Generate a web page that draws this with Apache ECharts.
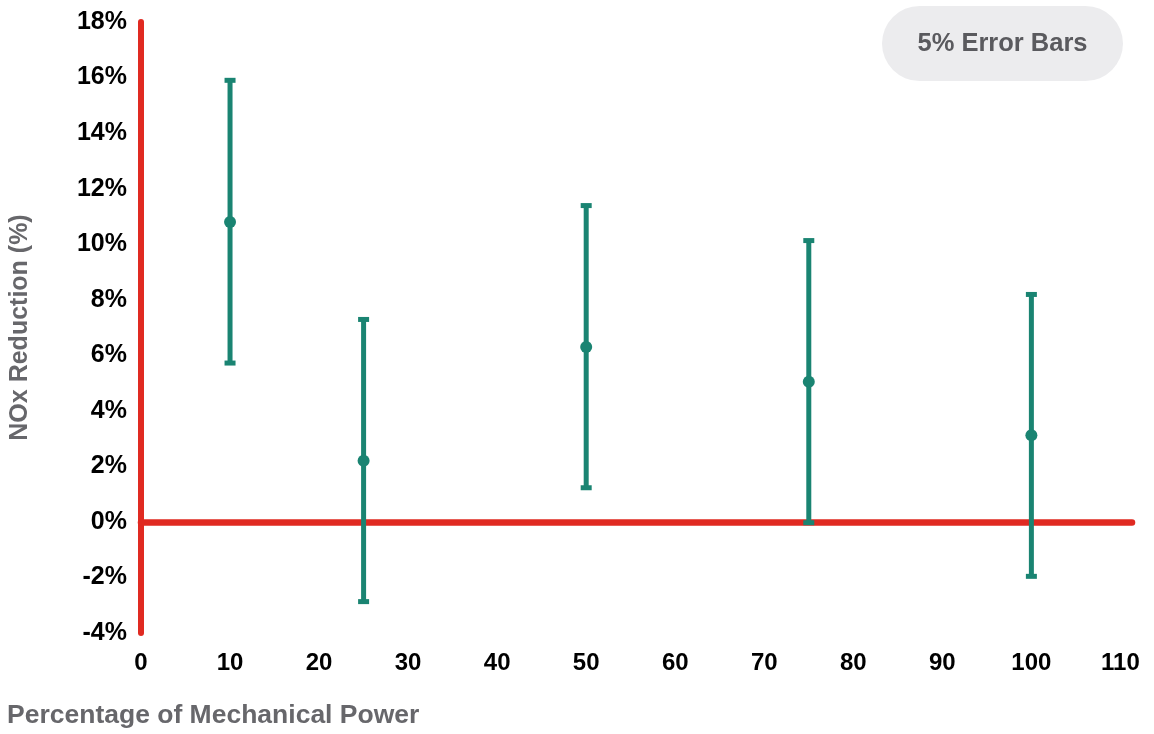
<!DOCTYPE html>
<html>
<head>
<meta charset="utf-8">
<script src="https://cdn.jsdelivr.net/npm/echarts@6/dist/echarts.min.js"></script>
<style>
  html, body { margin: 0; padding: 0; background: #fff; }
  #chart { width: 1154px; height: 734px; }
</style>
</head>
<body>
<div id="chart"></div>
<script>
// Share of mechanical power (%) at each test point
const power = [10, 25, 50, 75, 100];
// Mean NOx reduction (%)
const reduction = [10.8, 2.2, 6.3, 5.05, 3.12];
// Error bar bounds (%)
const lower = [5.72, -2.87, 1.23, -0.03, -1.96];
const upper = [15.9, 7.29, 11.39, 10.13, 8.19];

const xTicks = [0, 10, 20, 30, 40, 50, 60, 70, 80, 90, 100, 110];
const yTicks = [-4, -2, 0, 2, 4, 6, 8, 10, 12, 14, 16, 18];

const RED = '#e02a21';
const GREEN = '#1a8472';
const FONT = '"Liberation Sans", Arial, Helvetica, sans-serif';

const points = power.map((p, i) => [p, reduction[i], lower[i], upper[i]]);

const chart = echarts.init(document.getElementById('chart'), null, { renderer: 'canvas' });

chart.setOption({
  animation: false,
  grid: { left: 140, right: 22, top: 22, bottom: 101, containLabel: false },
  xAxis: [
    {
      type: 'value',
      min: xTicks[0],
      max: 111.3,
      interval: 10,
      position: 'bottom',
      axisLine: { show: false, onZero: false },
      axisTick: { show: false },
      splitLine: { show: false },
      axisLabel: {
        margin: 18,
        color: '#000',
        fontFamily: FONT,
        fontWeight: 'bold',
        fontSize: 24,
        formatter: v => (xTicks.indexOf(v) >= 0 ? String(v) : '')
      }
    },
    {
      // zero line of the chart
      type: 'value',
      min: xTicks[0],
      max: 111.3,
      interval: 10,
      position: 'top',
      axisLine: { show: true, onZero: true, onZeroAxisIndex: 0, lineStyle: { color: RED, width: 6.5, cap: 'round' } },
      axisTick: { show: false },
      splitLine: { show: false },
      axisLabel: { show: false }
    }
  ],
  yAxis: {
    type: 'value',
    min: yTicks[0],
    max: yTicks[yTicks.length - 1],
    interval: 2,
    name: 'NOx Reduction (%)',
    nameLocation: 'middle',
    nameGap: 108,
    nameTextStyle: { color: '#67676b', fontFamily: FONT, fontWeight: 'bold', fontSize: 25 },
    axisLine: { show: true, onZero: false, lineStyle: { color: RED, width: 6, cap: 'round' } },
    axisTick: { show: false },
    splitLine: { show: false },
    axisLabel: {
      margin: 14,
      color: '#000',
      fontFamily: FONT,
      fontWeight: 'bold',
      fontSize: 25,
      formatter: '{value}%'
    }
  },
  graphic: [
    {
      type: 'text',
      left: 7,
      top: 702,
      style: {
        text: 'Percentage of Mechanical Power',
        fill: '#67676b',
        font: 'bold 26.5px ' + FONT
      }
    },
    {
      type: 'group',
      left: 882,
      top: 6,
      children: [
        { type: 'rect', shape: { x: 0, y: 0, width: 241, height: 75, r: 37.5 }, style: { fill: '#ececee' } },
        {
          type: 'text',
          style: {
            x: 120.5, y: 38,
            text: '5% Error Bars',
            align: 'center',
            verticalAlign: 'middle',
            fill: '#5a5a5e',
            font: 'bold 25.5px ' + FONT
          }
        }
      ]
    }
  ],
  series: [
    {
      type: 'custom',
      xAxisIndex: 0,
      yAxisIndex: 0,
      z: 5,
      data: points,
      encode: { x: 0, y: [1, 2, 3] },
      renderItem: function (params, api) {
        const x = api.value(0);
        const c = api.coord([x, api.value(1)]);
        const lo = api.coord([x, api.value(2)]);
        const hi = api.coord([x, api.value(3)]);
        const capW = 11, capH = 5;
        return {
          type: 'group',
          children: [
            { type: 'line', shape: { x1: hi[0], y1: hi[1], x2: lo[0], y2: lo[1] }, style: { stroke: GREEN, lineWidth: 5 } },
            { type: 'rect', shape: { x: hi[0] - capW / 2, y: hi[1] - capH / 2, width: capW, height: capH }, style: { fill: GREEN } },
            { type: 'rect', shape: { x: lo[0] - capW / 2, y: lo[1] - capH / 2, width: capW, height: capH }, style: { fill: GREEN } },
            { type: 'circle', shape: { cx: c[0], cy: c[1], r: 6 }, style: { fill: GREEN } }
          ]
        };
      }
    }
  ]
});
</script>
</body>
</html>
